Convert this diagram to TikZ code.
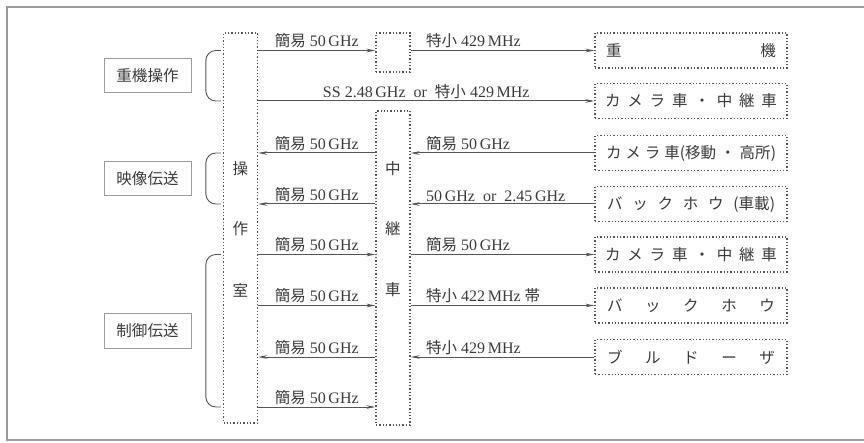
\documentclass[tikz,border=0pt]{standalone}
\usepackage{fontspec}
\setmainfont{Liberation Serif}
\newfontfamily\jp{Noto Sans CJK JP}[Scale=0.97]
\usetikzlibrary{arrows.meta}
\definecolor{rlInk}{HTML}{3A3A3A}
\definecolor{rlLine}{HTML}{555555}
\definecolor{rlFrame}{HTML}{9C9C9C}
\newcommand\rlsize{\fontsize{16}{19}\selectfont}
\tikzset{
  rl dotbox/.style={draw=rlLine, dotted, line width=1.3pt, inner sep=0pt},
  rl target/.style={rl dotbox, minimum width=192pt, minimum height=35pt, font=\rlsize\jp, text=rlInk},
  rl group/.style={draw=rlFrame, line width=1pt, minimum width=87pt, minimum height=34pt, font=\rlsize\jp, text=rlInk},
  rl char/.style={font=\rlsize\jp, text=rlInk, inner sep=0pt},
  rl link/.style={draw=rlLine, line width=1pt, -{Stealth[length=9pt,width=3.6pt]}},
  rl back/.style={rl link, {Stealth[length=9pt,width=3.6pt]}-},
  rl label/.style={font=\rlsize, text=rlInk, inner sep=2pt},
  rl brace/.style={draw=rlLine, line width=0.9pt, rounded corners=10pt},
}
\begin{document}
\begin{tikzpicture}[x=1pt, y=-1pt]
  \useasboundingbox (0,0) rectangle (864,443);
  \draw[rlFrame, line width=1.2pt] (864,7) -- (7,7) -- (7,440) -- (864,440);

  % Control room and relay car columns
  \node[rl dotbox, minimum width=34pt, minimum height=390pt] (op) at (240.5,228) {};
  \node[rl dotbox, minimum width=34pt, minimum height=39pt] (relayTop) at (393,52.5) {};
  \node[rl dotbox, minimum width=34pt, minimum height=314pt] (relay) at (393,268) {};
  \foreach \c/\yy [count=\i] in {操/169,作/229,室/290}
    \node[rl char] (op\i) at (240.5,\yy) {\c};
  \foreach \c/\yy [count=\i] in {中/169,継/229,車/290}
    \node[rl char] (relay\i) at (393,\yy) {\c};

  % Machines on the right
  \node[rl target] (heavy) at (691,50.5) {\makebox[170pt]{重\hfill 機}};
  \node[rl target] (camA) at (691,101) {\makebox[172pt]{カ\hfill メ\hfill ラ\hfill 車\hfill ・\hfill 中\hfill 継\hfill 車}};
  \node[rl target] (camMob) at (691,153) {\makebox[170pt]{カ\hfill メ\hfill ラ\hfill 車(移動\hfill ・\hfill 高所)}};
  \node[rl target] (bhCar) at (691,204) {\makebox[168pt]{バ\hfill ッ\hfill ク\hfill ホ\hfill ウ\hfill (車載)}};
  \node[rl target] (camB) at (691,254.5) {\makebox[172pt]{カ\hfill メ\hfill ラ\hfill 車\hfill ・\hfill 中\hfill 継\hfill 車}};
  \node[rl target] (bh) at (691,305.5) {\makebox[168pt]{バ\hfill ッ\hfill ク\hfill ホ\hfill ウ}};
  \node[rl target] (dozer) at (691,357) {\makebox[168pt]{ブ\hfill ル\hfill ド\hfill ー\hfill ザ}};
  \coordinate (lastRow) at (691,407);

  % Use groups
  \node[rl group] (gCrane) at (147.5,75.5) {重機操作};
  \node[rl group] (gVideo) at (147.5,178.5) {映像伝送};
  \node[rl group] (gCtrl) at (147.5,331) {制御伝送};
  \draw[rl brace] ([xshift=-2pt]op.west |- heavy) -- ++(-15,0) |- ([xshift=-2pt]op.west |- camA);
  \draw[rl brace] ([xshift=-2pt]op.west |- camMob) -- ++(-15,0) |- ([xshift=-2pt]op.west |- bhCar);
  \draw[rl brace] ([xshift=-2pt]op.west |- camB) -- ++(-15,0) |- ([xshift=-2pt]op.west |- lastRow);

  % Links, control room to relay car
  \draw[rl link] (op.east |- heavy) -- node[rl label, above] {{\jp 簡易} 50\,GHz} (relayTop.west |- heavy);
  \draw[rl back] (op.east |- camMob) -- node[rl label, above] {{\jp 簡易} 50\,GHz} (relay.west |- camMob);
  \draw[rl back] (op.east |- bhCar) -- node[rl label, above] {{\jp 簡易} 50\,GHz} (relay.west |- bhCar);
  \draw[rl link] (op.east |- camB) -- node[rl label, above] {{\jp 簡易} 50\,GHz} (relay.west |- camB);
  \draw[rl link] (op.east |- bh) -- node[rl label, above] {{\jp 簡易} 50\,GHz} (relay.west |- bh);
  \draw[rl back] (op.east |- dozer) -- node[rl label, above] {{\jp 簡易} 50\,GHz} (relay.west |- dozer);
  \draw[rl link] (op.east |- lastRow) -- node[rl label, above] {{\jp 簡易} 50\,GHz} (relay.west |- lastRow);

  % Direct link past the relay car
  \draw[rl link] (op.east |- camA) -- node[rl label, above] {SS 2.48\,GHz\ \ or\ \ {\jp 特小} 429\,MHz} (camA.west);

  % Links, relay car to machines
  \draw[rl link] (relayTop.east |- heavy) -- node[rl label, pos=0, above right, xshift=13pt] {{\jp 特小} 429\,MHz} (heavy.west);
  \draw[rl back] (relay.east |- camMob) -- node[rl label, pos=0, above right, xshift=13pt] {{\jp 簡易} 50\,GHz} (camMob.west);
  \draw[rl back] (relay.east |- bhCar) -- node[rl label, pos=0, above right, xshift=13pt] {50\,GHz\ \ or\ \ 2.45\,GHz} (bhCar.west);
  \draw[rl link] (relay.east |- camB) -- node[rl label, pos=0, above right, xshift=13pt] {{\jp 簡易} 50\,GHz} (camB.west);
  \draw[rl link] (relay.east |- bh) -- node[rl label, pos=0, above right, xshift=13pt] {{\jp 特小} 422\,MHz {\jp 帯}} (bh.west);
  \draw[rl back] (relay.east |- dozer) -- node[rl label, pos=0, above right, xshift=13pt] {{\jp 特小} 429\,MHz} (dozer.west);
\end{tikzpicture}
\end{document}
